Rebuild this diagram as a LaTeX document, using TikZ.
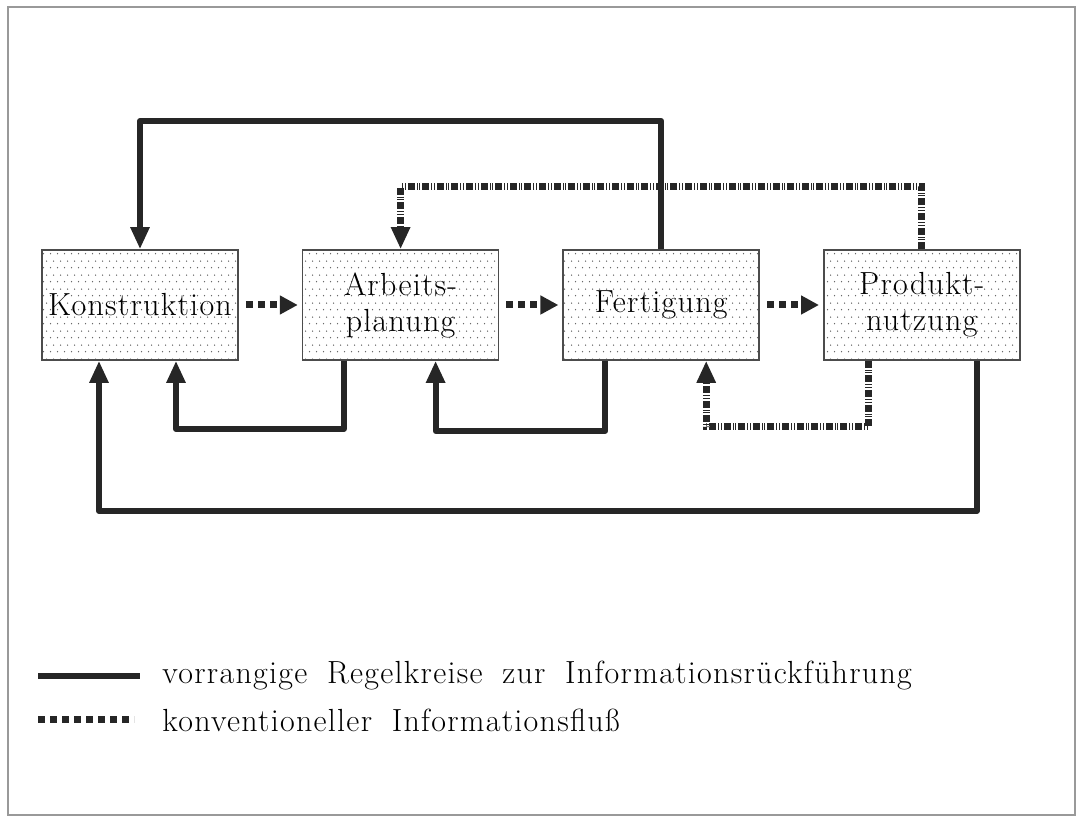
\documentclass[tikz,border=0pt]{standalone}
\usepackage{fontspec}
\setmainfont{Latin Modern Roman}[LetterSpace=4,WordSpace=1.8]
\usepackage{tikz}
\usetikzlibrary{positioning,patterns.meta,arrows.meta,calc}
\pgfdeclarepattern{name=punkte,type=uncolored,
  bottom left={\pgfpoint{0pt}{0pt}},top right={\pgfpoint{3.5pt}{7pt}},
  tile size={\pgfpoint{3.5pt}{7pt}},
  code={\pgfpathcircle{\pgfpoint{0.875pt}{1.75pt}}{0.4pt}
        \pgfpathcircle{\pgfpoint{2.625pt}{5.25pt}}{0.4pt}\pgfusepath{fill}}}

\begin{document}
\begin{tikzpicture}[x=0.5pt,y=-0.5pt,
  box/.style={draw=black!70,line width=0.8pt,pattern=punkte,pattern color=black!65,
    minimum width=98pt,minimum height=55pt,inner xsep=1pt,align=center,font=\fontsize{16}{18}\selectfont},
  rueck/.style={line width=3pt,draw=black!85,line join=round,-{Triangle[length=11pt,width=9pt]}},
  konv/.style={line width=3.5pt,draw=black!85,
    dash pattern=on 3.5pt off 1pt on 0.5pt off 0.8pt on 0.5pt off 1pt,-{Triangle[length=11pt,width=9pt]}},
  fluss/.style={line width=3.5pt,draw=black!85,dash pattern=on 3.5pt off 2.5pt,
    -{Triangle[length=9pt,width=9pt]},shorten <=3.5pt,shorten >=2pt},
  legtext/.style={anchor=west,inner sep=0pt,font=\fontsize{16}{18}\selectfont}]
\useasboundingbox (0,0) rectangle (1077,817);
\draw[black!40,line width=0.6pt] (8,7) rectangle (1075,815);

% Bereiche
\node[box] (kon) at (140,305) {Konstruktion};
\node[box,right=31.5pt of kon] (arb) {Arbeits-\\planung};
\node[box,right=31.5pt of arb] (fert) {Fertigung};
\node[box,right=31.5pt of fert] (prod) {Produkt-\\nutzung};

% konventioneller Fluss
\draw[fluss] (kon) -- (arb);
\draw[fluss] (arb) -- (fert);
\draw[fluss] (fert) -- (prod);

% Regelkreise
\coordinate (o1) at (400,121);
\coordinate (o2) at (650,187);
\coordinate (u1) at (250,429);
\coordinate (u2) at (500,431);
\coordinate (u3) at (800,427);
\coordinate (u4) at (500,511);
\draw[rueck] (fert.north) |- (o1) -| (kon.north);
\draw[konv] (prod.north) |- (o2) -| (arb.north);
\draw[rueck] ($(arb.south)+(-57,0)$) |- (u1) -| ($(kon.south)+(36,0)$);
\draw[rueck] ($(fert.south)+(-56,0)$) |- (u2) -| ($(arb.south)+(35,0)$);
\draw[konv] ($(prod.south)+(-53,0)$) |- (u3) -| ($(fert.south)+(45,0)$);
\draw[rueck] ($(prod.south)+(55,0)$) |- (u4) -| ($(kon.south)+(-41,0)$);

% Legende
\coordinate (l1a) at (38,676);
\coordinate (l1b) at (140,676);
\coordinate (l2a) at (38,720);
\coordinate (l2b) at (134,720);
\draw[line width=3pt,black!85] (l1a) -- (l1b);
\draw[line width=3.5pt,black!85,dash pattern=on 3.5pt off 2.5pt] (l2a) -- (l2b);
\node[legtext] (t1) at (162,676) {vorrangige Regelkreise zur Informationsrückführung};
\node[legtext] (t2) at (162,720) {konventioneller Informationsfluß};
\end{tikzpicture}
\end{document}
